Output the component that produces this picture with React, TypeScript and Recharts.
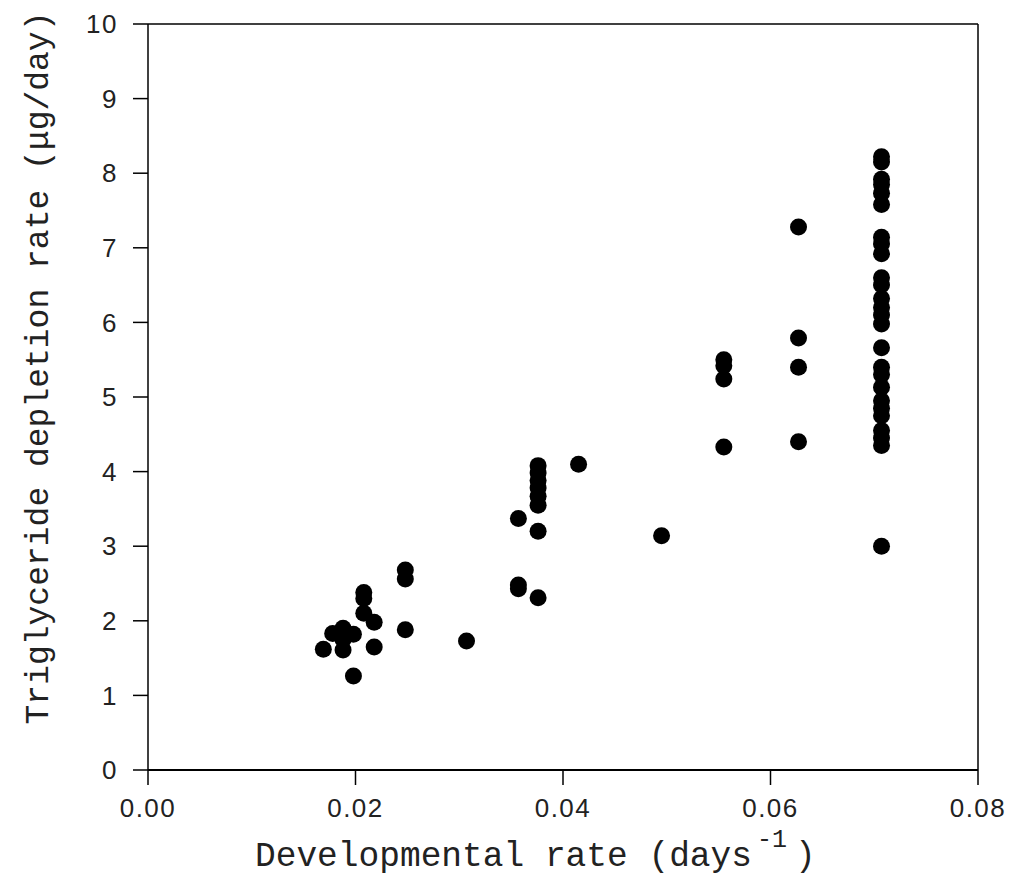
import { ScatterChart, Scatter, XAxis, YAxis, ReferenceLine } from "recharts";

// developmental rate (days^-1) for each column of points
const rates = [
  0.0169, 0.0178, 0.0188, 0.0198, 0.0208, 0.0218, 0.0248, 0.0307,
  0.0357, 0.0376, 0.0415, 0.0495, 0.0555, 0.0627, 0.0707,
];

// triglyceride depletion rate (ug/day) at each rate
const depletion = [
  [1.62],
  [1.83],
  [1.9, 1.61, 1.75],
  [1.82, 1.26],
  [2.38, 2.3, 2.1],
  [1.98, 1.65],
  [2.68, 2.56, 1.88],
  [1.73],
  [3.37, 2.48, 2.43],
  [4.08, 3.98, 3.88, 3.78, 3.67, 3.55, 3.2, 2.31],
  [4.1],
  [3.14],
  [5.5, 5.42, 5.24, 4.33],
  [7.28, 5.79, 5.4, 4.4],
  [
    8.22, 8.15, 7.92, 7.85, 7.73, 7.58, 7.14, 7.05, 6.92, 6.6, 6.5, 6.32,
    6.2, 6.1, 5.98, 5.66, 5.4, 5.3, 5.13, 4.95, 4.85, 4.75, 4.55, 4.45,
    4.35, 3.0,
  ],
];

const xTicks = [0, 0.02, 0.04, 0.06, 0.08];
const yTicks = [0, 1, 2, 3, 4, 5, 6, 7, 8, 9, 10];

const points = rates.flatMap((r, i) => depletion[i].map((v) => ({ x: r, y: v })));

const tickFont = {
  fill: "#222",
  fontSize: 26,
  letterSpacing: 1.5,
  fontFamily: "Liberation Sans, Arial, sans-serif",
};
const titleFont = "Liberation Mono, Courier New, monospace";

const Dot = (props: any) => <circle cx={props.cx} cy={props.cy} r={8.5} fill="#000" />;

// x title with the superscript -1 sitting above the closing paren
const XTitle = () => (
  <g fill="#222" fontFamily={titleFont}>
    <text x={255} y={866} fontSize={34.5} textLength={497}>
      Developmental rate (days
    </text>
    <text x={757} y={847} fontSize={25}>
      -1
    </text>
    <text x={795} y={866} fontSize={34.5}>
      )
    </text>
  </g>
);

const YTitle = () => (
  <text
    x={0}
    y={0}
    transform="translate(48, 368) rotate(-90)"
    textAnchor="middle"
    fill="#222"
    fontSize={33}
    fontFamily={titleFont}
  >
    Triglyceride depletion rate (μg/day)
  </text>
);

export default function App() {
  return (
    <div style={{ position: "absolute", left: 0, top: 0, background: "#fff" }}>
      <ScatterChart width={1009} height={880} margin={{ top: 24, right: 31, left: 0, bottom: 0 }}>
        <XAxis
          type="number"
          dataKey="x"
          domain={[0, 0.08]}
          ticks={xTicks}
          tickFormatter={(v: number) => v.toFixed(2)}
          tick={tickFont}
          tickSize={15}
          tickMargin={14}
          height={110}
          axisLine={{ stroke: "#000", strokeWidth: 2 }}
          tickLine={{ stroke: "#000", strokeWidth: 1.5 }}
          label={<XTitle />}
        />
        <YAxis
          type="number"
          dataKey="y"
          domain={[0, 10]}
          ticks={yTicks}
          tick={tickFont}
          tickSize={15}
          tickMargin={15}
          width={148}
          axisLine={{ stroke: "#000", strokeWidth: 1.5 }}
          tickLine={{ stroke: "#000", strokeWidth: 1.5 }}
          label={<YTitle />}
        />
        <ReferenceLine y={10} stroke="#000" strokeWidth={1.5} />
        <ReferenceLine x={0.08} stroke="#000" strokeWidth={1.5} />
        <Scatter data={points} shape={<Dot />} isAnimationActive={false} />
      </ScatterChart>
    </div>
  );
}
